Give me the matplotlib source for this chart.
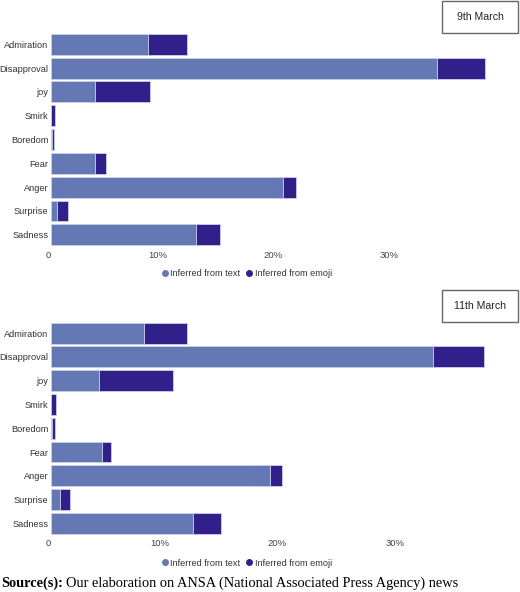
import matplotlib
matplotlib.use("Agg")
import matplotlib.pyplot as plt
from matplotlib.lines import Line2D
from matplotlib.patches import Rectangle

emotions = ["Admiration", "Disapproval", "joy", "Smirk", "Boredom",
            "Fear", "Anger", "Surprise", "Sadness"]

# percentages, 9th March
text_9 = [8.4, 33.3, 3.8, 0.0, 0.1, 3.8, 20.0, 0.5, 12.5]
emoji_9 = [3.3, 4.1, 4.7, 0.35, 0.15, 0.9, 1.1, 1.0, 2.1]

# percentages, 11th March
text_11 = [7.9, 32.4, 4.1, 0.0, 0.1, 4.3, 18.6, 0.8, 12.0]
emoji_11 = [3.6, 4.3, 6.2, 0.45, 0.2, 0.8, 1.0, 0.8, 2.4]

xticks = [0, 10, 20, 30]
xticklabels = ["0", "10%", "20%", "30%"]

c_text = "#6478b3"
c_emoji = "#32208a"
edge = "#c9cdea"

plt.rcParams['font.family'] = ['Liberation Sans', 'DejaVu Sans']

W, H = 520, 592
fig = plt.figure(figsize=(W / 100, H / 100), dpi=100)


def px(x0, y0, x1, y1):
    # pixel box (top-left origin) -> figure fraction rect
    return [x0 / W, 1 - y1 / H, (x1 - x0) / W, (y1 - y0) / H]


def panel(rect, xmax, txt, emo, label, box, legend_y):
    ax = fig.add_axes(rect)
    y = range(len(emotions))
    ax.barh(y, txt, height=0.88, color=c_text, edgecolor=edge, linewidth=0.6)
    ax.barh(y, emo, left=txt, height=0.88, color=c_emoji, edgecolor=edge, linewidth=0.6)
    ax.set_xlim(0, xmax)
    ax.set_ylim(len(emotions) - 0.5, -0.5)
    ax.set_yticks(list(y))
    ax.set_yticklabels(emotions, fontsize=6.7, color="#333333")
    ax.set_xticks(xticks)
    ax.set_xticklabels(xticklabels, fontsize=6.8, color="#444444", ha="right")
    ax.tick_params(length=0, pad=3)
    ax.tick_params(axis="y", pad=2)
    for s in ax.spines.values():
        s.set_visible(False)

    handles = [Line2D([], [], marker="o", ls="", color=c_text, markersize=4),
               Line2D([], [], marker="o", ls="", color=c_emoji, markersize=4)]
    fig.legend(handles, ["Inferred from text", "Inferred from emoji"],
               loc="center", bbox_to_anchor=(246 / W, 1 - legend_y / H),
               ncol=2, frameon=False, fontsize=6.6, handletextpad=0.1,
               columnspacing=0.5, handlelength=1.0, labelcolor="#333333")

    bx0, by0, bx1, by1 = box
    fig.patches.append(Rectangle((bx0 / W, 1 - by1 / H), (bx1 - bx0) / W,
                                 (by1 - by0) / H, transform=fig.transFigure,
                                 fill=False, edgecolor="#666666", linewidth=1.0))
    fig.text((bx0 + bx1) / 2 / W, 1 - (by0 + by1) / 2 / H, label,
             ha="center", va="center", fontsize=7.6, color="#222222")
    return ax


panel(px(51, 32.4, 51 + 464, 246.7), 40, text_9, emoji_9, "9th March",
      (442, 1, 518, 33), 274)
panel(px(51, 321.3, 51 + 460.2, 535.2), 39, text_11, emoji_11, "11th March",
      (442, 290, 518, 322), 563)

# source line
t1 = fig.text(1 / W, 1 - 583 / H, "Source(s):", family="Liberation Serif",
              fontweight="bold", fontsize=10.4, va="center", ha="left")
fig.canvas.draw()
bb = t1.get_window_extent()
fig.text(bb.x1 / W + 3 / W, 1 - 583 / H,
         "Our elaboration on ANSA (National Associated Press Agency) news",
         family="Liberation Serif", fontsize=10.4, va="center", ha="left")

fig.savefig("out.png", dpi=100)
